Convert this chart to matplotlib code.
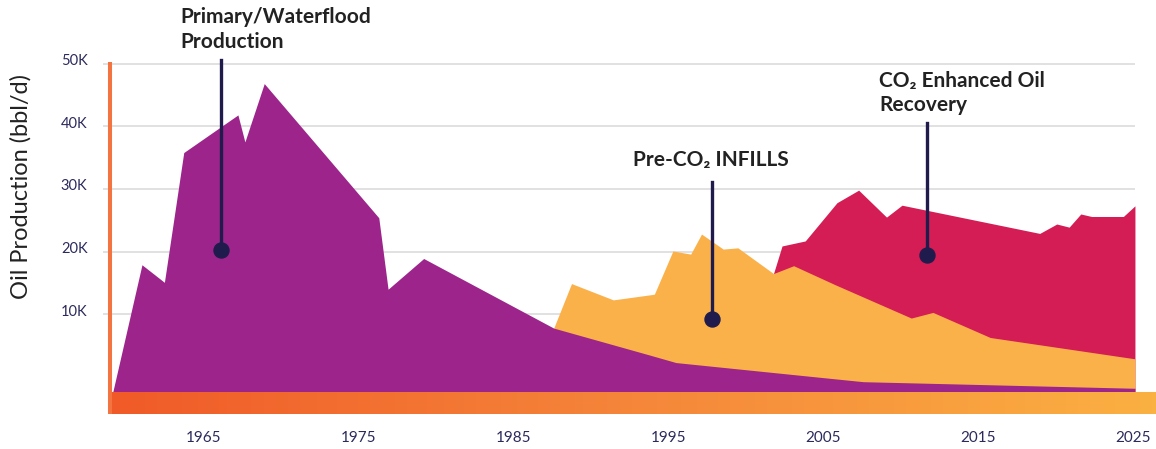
import numpy as np
import matplotlib.pyplot as plt
from matplotlib.colors import LinearSegmentedColormap
from matplotlib.transforms import ScaledTranslation

plt.rcParams['font.family'] = ['Lato', 'DejaVu Sans']

# cumulative production (K bbl/d) by year, each series is the running total
primary_years = [1959.1, 1961.0, 1962.45, 1963.7, 1967.2, 1967.65, 1968.9, 1976.3,
                 1976.9, 1979.2, 1987.6, 1993.8, 1995.5, 2005.4, 2007.6, 2025.15]
primary_total = [-2.55, 17.9, 15.1, 35.8, 41.8, 37.5, 46.8, 25.4,
                 14.0, 18.9, 7.8, 3.5, 2.3, -0.2, -0.75, -1.8]

infill_years = [1987.6, 1988.75, 1991.45, 1994.1, 1995.3, 1996.45, 1997.15, 1998.55,
                1999.5, 2001.8, 2003.1, 2005.8, 2010.7, 2012.1, 2015.8, 2025.15]
infill_total = [7.8, 14.9, 12.3, 13.2, 20.1, 19.6, 22.8, 20.4,
                20.6, 16.5, 17.75, 14.7, 9.4, 10.3, 6.3, 2.9]

co2_years = [2001.8, 2002.35, 2003.85, 2005.9, 2007.3, 2009.1, 2010.1, 2019.0,
             2020.1, 2020.9, 2021.65, 2022.35, 2024.4, 2025.15]
co2_total = [16.5, 20.9, 21.7, 27.8, 29.8, 25.5, 27.4, 22.9,
             24.4, 23.9, 26.0, 25.6, 25.6, 27.3]

y_ticks = [10, 20, 30, 40, 50]
y_tick_labels = ['10K', '20K', '30K', '40K', '50K']
x_ticks = [1965, 1975, 1985, 1995, 2005, 2015, 2025]

base = -2.55          # where the areas sit on the timeline bar
bar_bottom = -5.9

purple = '#9c248b'
yellow = '#fbb14a'
crimson = '#d41c55'
navy = '#1f1c4d'
tick_col = '#2b2a5c'

fig = plt.figure(figsize=(11.56, 4.49), dpi=100)
ax = fig.add_axes([100 / 1156, 29 / 449, 1056 / 1156, 420 / 449])
ax.set_xlim(1958.29, 2026.51)
ax.set_ylim(-6.86, 60.13)

# light gridlines
ax.hlines(y_ticks, 1958.48, 2025.15, color='#d9d9d9', lw=1.1, zorder=0)

# overlapping areas: largest total first so the lower layers cover it
ax.fill_between(co2_years, base, co2_total, color=crimson, lw=0, zorder=1)
ax.fill_between(infill_years, base, infill_total, color=yellow, lw=0, zorder=2)
ax.fill_between(primary_years, base, primary_total, color=purple, lw=0, zorder=3)

# orange timeline bar with gradient
cmap = LinearSegmentedColormap.from_list('bar', ['#f05a28', '#f5863a', '#fbb042'])
grad = np.linspace(0, 1, 256).reshape(1, -1)
ax.imshow(grad, cmap=cmap, aspect='auto', extent=(1958.81, 2026.51, bar_bottom, base),
          zorder=4)
ax.plot([1958.94, 1958.94], [bar_bottom, 50.24], color='#f37440', lw=2.9,
        solid_capstyle='butt', zorder=4)

# callouts
callouts = [
    ('Primary/Waterflood\nProduction', 1963.46, 55.4, 1966.1, 50.6, 20.25),
    ('Pre-CO\u2082 INFILLS', 1992.72, 34.6, 1997.8, 31.05, 9.25),
    ('CO\u2082 Enhanced Oil\nRecovery', 2008.63, 45.3, 2011.7, 40.5, 19.45),
]
for text, tx, ty, lx, ltop, ldot in callouts:
    ax.text(tx, ty, text, ha='left', va='center', fontsize=15, fontweight='bold',
            color='#222222', linespacing=1.3, zorder=6)
    ax.plot([lx, lx], [ltop, ldot], color=navy, lw=2.4, zorder=6)
    ax.plot(lx, ldot, 'o', color=navy, ms=10.8, zorder=6)

ax.set_yticks(y_ticks)
ax.set_yticklabels(y_tick_labels)
ax.set_xticks(x_ticks)
ax.tick_params(axis='y', length=0, pad=9, labelsize=10.5, labelcolor=tick_col)
ax.tick_params(axis='x', length=0, pad=8, labelsize=11, labelcolor=tick_col)
lift = ScaledTranslation(0, 3 / 72, fig.dpi_scale_trans)
for lbl in ax.get_yticklabels():
    lbl.set_transform(lbl.get_transform() + lift)
for s in ax.spines.values():
    s.set_visible(False)

fig.text(21 / 1156, 1 - 187 / 449, 'Oil Production (bbl/d)', rotation=90,
         ha='center', va='center', fontsize=17, color='#222222')

fig.savefig('out.png', dpi=100)
